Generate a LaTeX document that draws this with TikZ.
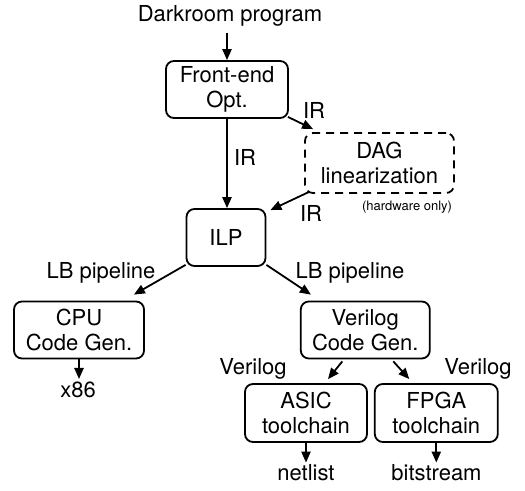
\documentclass[tikz,border=0pt]{standalone}
\usepackage{fontspec}
\setmainfont{TeX Gyre Heros}
\usetikzlibrary{arrows.meta,calc}
\begin{document}
\begin{tikzpicture}[x=0.5pt,y=-0.5pt,
  box/.style={draw,rounded corners=4pt,line width=0.9pt,align=center,inner sep=0pt,
    font=\fontsize{11}{12.4}\selectfont},
  lbl/.style={inner sep=0pt,anchor=base,font=\fontsize{11}{12.4}\selectfont},
  small/.style={inner sep=0pt,anchor=base,font=\fontsize{6.5}{7.5}\selectfont},
  arr/.style={-{Triangle[length=5.5pt,width=4.6pt]},line width=0.9pt}]
\useasboundingbox (0,0) rectangle (525,491);
% boxes
\node[box,minimum width=61pt,minimum height=28.5pt] (fe) at (227,89.5) {Front-end\\Opt.};
\node[box,dashed,dash pattern=on 4pt off 3pt,minimum width=74.5pt,minimum height=30pt] (dag) at (379.5,163) {DAG\\linearization};
\node[box,minimum width=39.5pt,minimum height=28.5pt] (ilp) at (226,237.5) {ILP};
\node[box,minimum width=65pt,minimum height=28.5pt] (cpu) at (79,330) {CPU\\Code Gen.};
\node[box,minimum width=64.5pt,minimum height=28.5pt] (ver) at (365.3,330) {Verilog\\Code Gen.};
\node[box,minimum width=61pt,minimum height=29pt] (asic) at (306,413) {ASIC\\toolchain};
\node[box,minimum width=61.5pt,minimum height=29pt] (fpga) at (436.3,413) {FPGA\\toolchain};
% plain texts
\node[lbl] (dark) at (230,22) {Darkroom program};
\node[lbl] (x86) at (78,398) {x86};
\node[lbl] (net) at (306,481) {netlist};
\node[lbl] (bits) at (436.5,481) {bitstream};
\node[small] (hw) at (407,210.5) {(hardware only)};
% edge labels
\node[lbl] (ir1) at (314,119) {IR};
\node[lbl] (ir2) at (245,166) {IR};
\node[lbl] (ir3) at (311,222) {IR};
\node[lbl] (lb1) at (101,279) {LB pipeline};
\node[lbl] (lb2) at (350,279) {LB pipeline};
\node[lbl] (vl1) at (253,375) {Verilog};
\node[lbl] (vl2) at (478,375) {Verilog};
% connectors
\draw[arr] ($(dark.south -| fe.north)+(0,6)$) -- (fe.north);
\draw[arr] (fe.south) -- (ilp.north -| fe.south);
\draw[arr] ($(fe.south east)+(-1,-2)$) -- ($(dag.north west)+(9,-3)$);
\draw[arr] ($(dag.south west)+(5,-2)$) -- ($(ilp.north east)+(4,2)$);
\draw[arr] ($(ilp.south west)+(0,-2)$) -- ($(cpu.north east)+(-11,-6)$);
\draw[arr] ($(ilp.south east)+(0,-2)$) -- ($(ver.north west)+(11,-6)$);
\draw[arr] (cpu.south) -- ($(cpu.south |- x86.north)+(0,-3)$);
\draw[arr] ($(ver.south)+(-23,2)$) -- ($(asic.north)+(22,-4)$);
\draw[arr] ($(ver.south)+(28,2)$) -- ($(fpga.north)+(-27,-4)$);
\draw[arr] (asic.south) -- ($(asic.south |- net.north)+(0,-2)$);
\draw[arr] (fpga.south) -- ($(fpga.south |- bits.north)+(0,-2)$);
\end{tikzpicture}
\end{document}
